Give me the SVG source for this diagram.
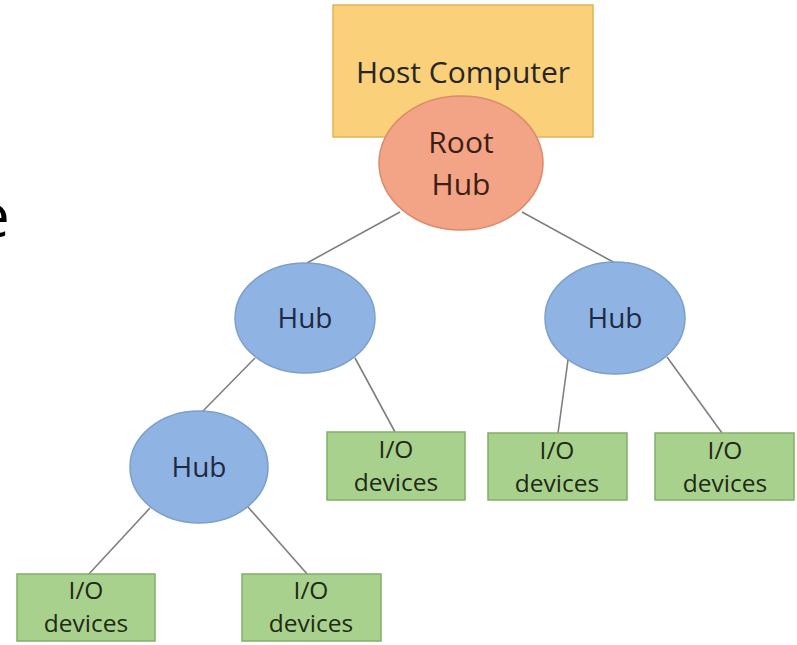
<svg xmlns="http://www.w3.org/2000/svg" width="797" height="645" viewBox="0 0 797 645">
<style>
text{font-family:"Open Sans","Noto Sans","DejaVu Sans",sans-serif;text-anchor:middle}
.host{fill:#FAD07A;stroke:#E2B457;stroke-width:1.5}
.root{fill:#F4A486;stroke:#DC8A68;stroke-width:1.5}
.hub{fill:#8FB4E3;stroke:#7C9FCB;stroke-width:1.5}
.dev{fill:#A9D18E;stroke:#82AE67;stroke-width:1.5}
.conn line{stroke:#7F7F7F;stroke-width:1.6}
.t30{font-size:30px;fill:#262626}
.tr{font-size:30px;fill:#3B1E14}
.th{font-size:28px;fill:#1E2A44}
.td{font-size:24.5px;fill:#1F2A16}
</style>
<rect width="797" height="645" fill="#FFFFFF"/>
<text x="-24" y="237" style="font-size:60px;fill:#000;text-anchor:start">e</text>
<g id="connectors" class="conn">
<line x1="400" y1="212" x2="307" y2="263"/>
<line x1="522" y1="212" x2="615" y2="263"/>
<line x1="255" y1="358" x2="202" y2="412"/>
<line x1="355" y1="358" x2="395" y2="432"/>
<line x1="568" y1="360" x2="558" y2="433"/>
<line x1="667" y1="357" x2="722" y2="433"/>
<line x1="150" y1="508" x2="88" y2="575"/>
<line x1="248" y1="507" x2="308" y2="575"/>
</g>
<g id="host">
<rect class="host" x="333" y="5" width="260" height="132"/>
<text class="t30" x="463" y="83">Host Computer</text>
</g>
<g id="root-hub">
<ellipse class="root" cx="461" cy="163" rx="82" ry="67"/>
<text class="tr" x="461" y="153">Root</text>
<text class="tr" x="461" y="195">Hub</text>
</g>
<g id="hub-left">
<ellipse class="hub" cx="305" cy="318" rx="70" ry="55"/>
<text class="th" x="305" y="328">Hub</text>
</g>
<g id="hub-right">
<ellipse class="hub" cx="615" cy="318" rx="70" ry="56"/>
<text class="th" x="615" y="328">Hub</text>
</g>
<g id="hub-lower">
<ellipse class="hub" cx="199" cy="467" rx="69" ry="56"/>
<text class="th" x="199" y="477">Hub</text>
</g>
<g id="dev-mid">
<rect class="dev" x="327" y="432" width="138" height="68"/>
<text class="td" x="396" y="458">I/O</text>
<text class="td" x="396" y="491">devices</text>
</g>
<g id="dev-a">
<rect class="dev" x="488" y="433" width="139" height="67"/>
<text class="td" x="557" y="459">I/O</text>
<text class="td" x="557" y="492">devices</text>
</g>
<g id="dev-b">
<rect class="dev" x="655" y="433" width="139" height="67"/>
<text class="td" x="725" y="459">I/O</text>
<text class="td" x="725" y="492">devices</text>
</g>
<g id="dev-c">
<rect class="dev" x="17" y="574" width="138" height="67"/>
<text class="td" x="86" y="599">I/O</text>
<text class="td" x="86" y="632">devices</text>
</g>
<g id="dev-d">
<rect class="dev" x="242" y="574" width="139" height="67"/>
<text class="td" x="311" y="599">I/O</text>
<text class="td" x="311" y="632">devices</text>
</g>
</svg>
